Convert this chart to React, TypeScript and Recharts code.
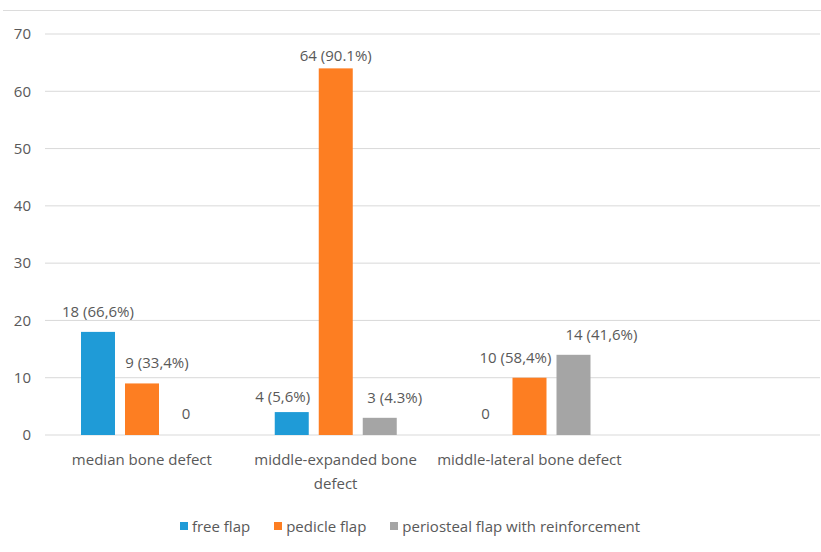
import React from "react";
import {
  Bar,
  BarChart,
  CartesianGrid,
  Legend,
  Text,
  XAxis,
  YAxis,
} from "recharts";

const categories = [
  "median bone defect",
  "middle-expanded bone defect",
  "middle-lateral bone defect",
  "",
];
const freeFlap = [18, 4, 0, null];
const pedicleFlap = [9, 64, 10, null];
const periostealFlap = [0, 3, 14, null];
const freeFlapLabels = ["18 (66,6%)", "4 (5,6%)", "0", ""];
const pedicleFlapLabels = ["9 (33,4%)", "64 (90.1%)", "10 (58,4%)", ""];
const periostealFlapLabels = ["0", "3 (4.3%)", "14 (41,6%)", ""];
const yTicks = [0, 10, 20, 30, 40, 50, 60, 70];

const series = [
  { key: "free", name: "free flap", color: "#1f9bd7" },
  { key: "pedicle", name: "pedicle flap", color: "#fd7e22" },
  { key: "periosteal", name: "periosteal flap with reinforcement", color: "#a5a5a5" },
];

// label nudges [dx, dy] per series per category, like the hand-moved labels in the original
const labelNudge: Record<string, number[][]> = {
  free: [[0, 0], [-9, 5], [0, 0], [0, 0]],
  pedicle: [[15, 0], [0, 8], [-14, 0], [0, 0]],
  periosteal: [[0, 0], [15, 0], [28, 0], [0, 0]],
};

const data = categories.map((name, i) => ({
  name,
  idx: i,
  free: freeFlap[i],
  pedicle: pedicleFlap[i],
  periosteal: periostealFlap[i],
  freeLabel: freeFlapLabels[i],
  pedicleLabel: pedicleFlapLabels[i],
  periostealLabel: periostealFlapLabels[i],
}));

const FONT = "'Open Sans', sans-serif";
const TEXT = "#595959";
const SIZE = 15;

function CategoryTick({ x, y, payload }: any) {
  return (
    <Text
      x={x}
      y={y}
      dy={11}
      width={208}
      lineHeight={24}
      textAnchor="middle"
      verticalAnchor="start"
      fill={TEXT}
      fontSize={SIZE}
      fontFamily={FONT}
      style={{ fontSize: SIZE, fontFamily: FONT }}
    >
      {payload.value}
    </Text>
  );
}

// draws the bar and its label; zero bars get a 1px min size only so the label has a spot
const barShape = (key: string, color: string) => (props: any) => {
  const { x, y, width, height, payload } = props;
  const value = payload[key];
  const text = payload[key + "Label"];
  const [dx, dy] = labelNudge[key][payload.idx];
  return (
    <g>
      {value > 0 && <rect x={x} y={y} width={width} height={height} fill={color} />}
      {text && (
        <text
          x={x + width / 2 + dx}
          y={y - 15 + dy}
          textAnchor="middle"
          fill={TEXT}
          fontSize={SIZE}
          fontFamily={FONT}
        >
          {text}
        </text>
      )}
    </g>
  );
};

function LegendContent() {
  return (
    <div
      style={{
        display: "flex",
        justifyContent: "center",
        gap: 24,
        fontFamily: FONT,
        fontSize: SIZE,
        color: TEXT,
      }}
    >
      {series.map((s) => (
        <span key={s.key} style={{ display: "flex", alignItems: "center", gap: 4 }}>
          <span style={{ width: 8, height: 8, background: s.color, display: "inline-block" }} />
          {s.name}
        </span>
      ))}
    </div>
  );
}

export default function App() {
  return (
    <div style={{ position: "relative", width: 821, height: 552, background: "#fff" }}>
      <style>{"body{margin:0}"}</style>
      <div
        style={{
          position: "absolute",
          top: 10,
          left: 3,
          right: 0,
          borderTop: "1px solid #dcdcdc",
        }}
      />
      <BarChart
        width={821}
        height={552}
        data={data}
        margin={{ top: 34, right: 1, left: 0, bottom: 12 }}
        barSize={34}
        barGap={10}
      >
        <CartesianGrid vertical={false} stroke="#d9d9d9" />
        <XAxis
          dataKey="name"
          axisLine={false}
          tickLine={false}
          interval={0}
          height={81}
          tick={<CategoryTick />}
        />
        <YAxis
          width={45}
          domain={[0, 70]}
          ticks={yTicks}
          axisLine={false}
          tickLine={false}
          tickSize={0}
          tickMargin={14}
          tick={{ fill: TEXT, fontSize: SIZE, fontFamily: FONT }}
        />
        <Legend
          verticalAlign="bottom"
          content={<LegendContent />}
          wrapperStyle={{ height: 24 }}
        />
        {series.map((s) => (
          <Bar
            key={s.key}
            dataKey={s.key}
            name={s.name}
            fill={s.color}
            minPointSize={(v: any) => (v === 0 ? 1 : 0)}
            shape={barShape(s.key, s.color)}
            isAnimationActive={false}
          />
        ))}
      </BarChart>
    </div>
  );
}
